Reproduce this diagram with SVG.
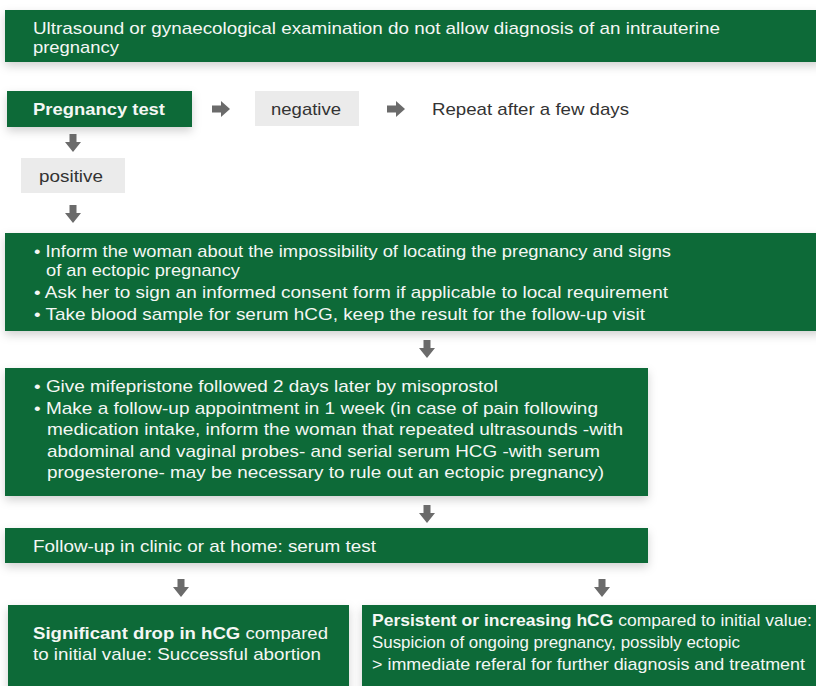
<svg xmlns="http://www.w3.org/2000/svg" width="816" height="686" viewBox="0 0 816 686">
<style>
text{font-family:"Liberation Sans",Arial,sans-serif;font-size:17px}
.w{fill:#f4f7f4}
.d{fill:#333333}
.b{font-weight:bold}
.g{fill:#076a37}
.l{fill:#ebebeb}
.a{fill:#6b6b6b}
</style>
<defs>
<filter id="sh" x="-10%" y="-30%" width="120%" height="170%">
<feDropShadow dx="0" dy="4" stdDeviation="5" flood-color="#000" flood-opacity="0.18"/>
</filter>
<path id="down" d="M-3.5,0 H3.5 V8 H8 L0,18 L-8,8 H-3.5 Z"/>
<path id="right" d="M0,-3.5 V3.5 H9 V8 L18,0 L9,-8 V-3.5 Z"/>
</defs>
<rect width="816" height="686" fill="#ffffff"/>

<g id="node-top">
<rect class="g" x="5" y="10" width="816" height="52" filter="url(#sh)"/>
<text class="w" x="33" y="34" textLength="687" lengthAdjust="spacingAndGlyphs">Ultrasound or gynaecological examination do not allow diagnosis of an intrauterine</text>
<text class="w" x="33" y="53" textLength="86" lengthAdjust="spacingAndGlyphs">pregnancy</text>
</g>

<g id="node-test">
<rect class="g" x="7" y="91" width="185" height="36" filter="url(#sh)"/>
<text class="w b" x="33" y="115" textLength="132" lengthAdjust="spacingAndGlyphs">Pregnancy test</text>
</g>

<g id="node-negative">
<rect class="l" x="255" y="91" width="104" height="35"/>
<text class="d" x="271" y="115" textLength="70" lengthAdjust="spacingAndGlyphs">negative</text>
</g>

<g id="node-repeat">
<text class="d" x="432" y="115" textLength="197" lengthAdjust="spacingAndGlyphs">Repeat after a few days</text>
</g>

<g id="node-positive">
<rect class="l" x="21" y="158" width="104" height="35"/>
<text class="d" x="39" y="182" textLength="64" lengthAdjust="spacingAndGlyphs">positive</text>
</g>

<g id="node-inform">
<rect class="g" x="5" y="233" width="816" height="98" filter="url(#sh)"/>
<text class="w" x="34" y="257" textLength="637" lengthAdjust="spacingAndGlyphs">• Inform the woman about the impossibility of locating the pregnancy and signs</text>
<text class="w" x="46" y="276" textLength="194" lengthAdjust="spacingAndGlyphs">of an ectopic pregnancy</text>
<text class="w" x="34" y="298" textLength="634" lengthAdjust="spacingAndGlyphs">• Ask her to sign an informed consent form if applicable to local requirement</text>
<text class="w" x="34" y="320" textLength="611" lengthAdjust="spacingAndGlyphs">• Take blood sample for serum hCG, keep the result for the follow-up visit</text>
</g>

<g id="node-mife">
<rect class="g" x="5" y="368" width="643" height="128" filter="url(#sh)"/>
<text class="w" x="34" y="392" textLength="464" lengthAdjust="spacingAndGlyphs">• Give mifepristone followed 2 days later by misoprostol</text>
<text class="w" x="34" y="414" textLength="564" lengthAdjust="spacingAndGlyphs">• Make a follow-up appointment in 1 week (in case of pain following</text>
<text class="w" x="47" y="435" textLength="576" lengthAdjust="spacingAndGlyphs">medication intake, inform the woman that repeated ultrasounds -with</text>
<text class="w" x="47" y="457" textLength="553" lengthAdjust="spacingAndGlyphs">abdominal and vaginal probes- and serial serum HCG -with serum</text>
<text class="w" x="47" y="478" textLength="557" lengthAdjust="spacingAndGlyphs">progesterone- may be necessary to rule out an ectopic pregnancy)</text>
</g>

<g id="node-followup">
<rect class="g" x="5" y="528" width="643" height="35" filter="url(#sh)"/>
<text class="w" x="33" y="552" textLength="343" lengthAdjust="spacingAndGlyphs">Follow-up in clinic or at home: serum test</text>
</g>

<g id="node-success">
<rect class="g" x="8" y="605" width="341" height="90" filter="url(#sh)"/>
<text class="w" x="33" y="639" textLength="295" lengthAdjust="spacingAndGlyphs"><tspan class="b">Significant drop in hCG</tspan> compared</text>
<text class="w" x="33" y="660" textLength="288" lengthAdjust="spacingAndGlyphs">to initial value: Successful abortion</text>
</g>

<g id="node-persistent">
<rect class="g" x="362" y="605" width="460" height="90" filter="url(#sh)"/>
<text class="w" x="372" y="626" textLength="440" lengthAdjust="spacingAndGlyphs"><tspan class="b">Persistent or increasing hCG</tspan> compared to initial value:</text>
<text class="w" x="372" y="648" textLength="368" lengthAdjust="spacingAndGlyphs">Suspicion of ongoing pregnancy, possibly ectopic</text>
<text class="w" x="372" y="670" textLength="433" lengthAdjust="spacingAndGlyphs">&gt; immediate referal for further diagnosis and treatment</text>
</g>

<g id="connectors" class="a">
<use href="#right" x="212" y="109"/>
<use href="#right" x="387" y="109"/>
<use href="#down" x="73" y="134"/>
<use href="#down" x="73" y="205"/>
<use href="#down" x="427" y="340"/>
<use href="#down" x="427" y="505"/>
<use href="#down" x="181" y="579"/>
<use href="#down" x="602" y="579"/>
</g>
</svg>
